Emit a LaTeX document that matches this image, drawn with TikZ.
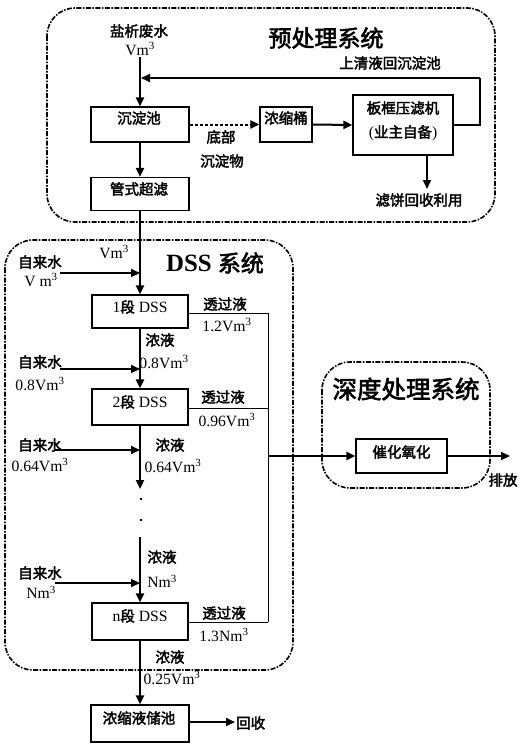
\documentclass[tikz,border=0pt]{standalone}
\usepackage{fontspec}
\setmainfont{Liberation Serif}[Scale=1.08]
\newfontfamily\cjk{Noto Sans CJK SC}[AutoFakeBold=2.5]
\usetikzlibrary{arrows.meta}
\newcommand{\lbl}{\fontsize{14.5}{16}\selectfont}
\newcommand{\ttl}{\fontsize{23}{26}\selectfont\bfseries}
\newcommand{\cb}[1]{{\cjk\bfseries #1}}
\newcommand{\cub}{\textsuperscript{3}}
\begin{document}
\begin{tikzpicture}[x=1pt,y=-1pt,
  box/.style={draw, line width=1.2pt, inner sep=0, minimum width=98pt},
  lab/.style={inner sep=0, font=\lbl},
  ttlab/.style={inner sep=0, font=\ttl},
  flow/.style={line width=2.4pt, -{Triangle[length=9pt,width=8pt]}},
  mid/.style={line width=2pt, -{Triangle[length=9pt,width=8pt]}},
  thinl/.style={line width=1pt},
  sys/.style={draw, line width=1.6pt, rounded corners=28pt, dash pattern=on 5pt off 1.5pt on 1.5pt off 1.5pt},
  dot/.style={fill, inner sep=0, minimum size=2.5pt}]
\useasboundingbox (0,0) rectangle (520,744);

% system frames
\draw[sys] (47,8) rectangle (495,222);
\draw[sys] (5,240) rectangle (293,670);
\draw[sys] (322,362) rectangle (490,488);

% titles
\node[ttlab] (t1) at (326,38) {\cb{预处理系统}};
\node[ttlab] (t2) at (215,263) {DSS \cb{系统}};
\node[ttlab, font=\fontsize{24.5}{27}\selectfont\bfseries] (t3) at (406,389) {\cb{深度处理系统}};

% pretreatment
\node[lab] (sw) at (139,31) {\cb{盐析废水}};
\node[lab] (swv) at (140,49) {Vm\cub};
\coordinate (swin) at (140,57);
\node[box, minimum height=35pt] (cdc) at (140,124.5) {};
\node[lab] (cdct) at (139,118) {\cb{沉淀池}};
\node[box, minimum width=52pt, minimum height=35pt] (nst) at (286,124.5) {};
\node[lab] (nstt) at (286,118) {\cb{浓缩桶}};
\node[box, minimum width=100pt, minimum height=60pt] (bk) at (403,125) {};
\node[lab] (bkt1) at (403,108) {\cb{板框压滤机}};
\node[lab] (bkt2) at (403,133) {(\cb{业主自备})};
\node[box, minimum height=33pt] (gsc) at (140,194) {};
\node[lab] (gsct) at (139,189) {\cb{管式超滤}};
\node[lab] (fb) at (390,63) {\cb{上清液回沉淀池}};
\node[lab] (db1) at (221,137) {\cb{底部}};
\node[lab] (db2) at (222,161) {\cb{沉淀物}};
\node[lab] (lb) at (419,200) {\cb{滤饼回收利用}};
\coordinate (fbr) at (480,78);
\coordinate (fbl) at (141,78);
\coordinate (lbt) at (427,189);

\draw[flow] (swin) -- (cdc.north);
\draw[line width=2pt] (bk.east) -- (fbr |- bk.east) -- (fbr);
\draw[mid] (fbr) -- (fbl);
\draw[mid, dash pattern=on 3pt off 2pt] (cdc.east) -- (nst.west);
\draw[mid] (nst.east) -- (bk.west);
\draw[mid] (bk.south -| lbt) -- (lbt);
\draw[flow] (cdc.south) -- (gsc.north);

% DSS system
\node[box, minimum width=96pt, minimum height=33pt] (d1) at (140,311.5) {};
\node[lab] (d1t) at (140,307) {1\cb{段} DSS};
\node[box, minimum width=96pt, minimum height=36pt] (d2) at (140,407) {};
\node[lab] (d2t) at (140,402) {2\cb{段} DSS};
\node[box, minimum width=96pt, minimum height=37pt] (dn) at (140,621.5) {};
\node[lab] (dnt) at (140,616) {n\cb{段} DSS};
\node[box, minimum height=37pt] (ns) at (140,723.5) {};
\node[lab] (nst2) at (139,718) {\cb{浓缩液储池}};

\node[lab] (vin) at (114,252) {Vm\cub};
\draw[flow] (gsc.south) -- (d1.north);

\node[lab] (w1a) at (40,262) {\cb{自来水}};
\node[lab] (w1b) at (41,280) {V m\cub};
\coordinate (w1) at (60,273);
\draw[mid] (w1) -- (w1 -| d1.north);

\node[lab] (c1a) at (160,340) {\cb{浓液}};
\node[lab] (c1b) at (164,362) {0.8Vm\cub};
\node[lab] (w2a) at (40,362) {\cb{自来水}};
\node[lab] (w2b) at (40,384) {0.8Vm\cub};
\coordinate (w2) at (60,369);
\draw[flow] (d1.south) -- (d2.north);
\draw[mid] (w2) -- (w2 -| d2.north);

\node[lab] (c2a) at (170,445) {\cb{浓液}};
\node[lab] (c2b) at (173,466) {0.64Vm\cub};
\node[lab] (w3a) at (40,445) {\cb{自来水}};
\node[lab] (w3b) at (40,465) {0.64Vm\cub};
\coordinate (w3) at (55,450);
\coordinate (a3) at (140,489);
\draw[flow] (d2.south) -- (a3);
\draw[mid] (w3) -- (w3 -| d2.south);

\node[dot] (dt1) at (141,499) {};
\node[dot] (dt2) at (141,520) {};

\coordinate (a4) at (140,537);
\node[lab] (c3a) at (162,557) {\cb{浓液}};
\node[lab] (c3b) at (162,581) {Nm\cub};
\node[lab] (w4a) at (40,573) {\cb{自来水}};
\node[lab] (w4b) at (41,592) {Nm\cub};
\coordinate (w4) at (55,583);
\draw[flow] (a4) -- (dn.north);
\draw[mid] (w4) -- (w4 -| dn.north);

\node[lab] (c4a) at (170,657) {\cb{浓液}};
\node[lab] (c4b) at (172,678) {0.25Vm\cub};
\draw[flow] (dn.south) -- (ns.north);
\coordinate (rc) at (235,722);
\node[lab, anchor=west] (rct) at (236,723) {\cb{回收}};
\draw[mid] (ns.east |- rc) -- (rc);

% permeate
\node[lab] (p1a) at (225,304) {\cb{透过液}};
\node[lab] (p1b) at (227,325) {1.2Vm\cub};
\node[lab] (p2a) at (223,397) {\cb{透过液}};
\node[lab] (p2b) at (227,420) {0.96Vm\cub};
\node[lab] (p3a) at (224,613) {\cb{透过液}};
\node[lab] (p3b) at (224,635) {1.3Nm\cub};
\coordinate (p1) at (268,313);
\coordinate (p2) at (268,408);
\coordinate (p3) at (268,622);
\coordinate (po) at (268,456);
\draw[thinl] (d1.east |- p1) -- (p1);
\draw[thinl] (d2.east |- p2) -- (p2);
\draw[thinl] (dn.east |- p3) -- (p3);
\draw[thinl] (p1) -- (p3);

% advanced treatment
\node[box, minimum width=91pt, minimum height=34pt] (cat) at (401.5,456) {};
\node[lab] (catt) at (401.5,452) {\cb{催化氧化}};
\coordinate (out) at (510,456);
\node[lab] (pf) at (503,480) {\cb{排放}};
\draw[mid] (po) -- (cat.west);
\draw[mid] (cat.east) -- (out);
\end{tikzpicture}
\end{document}
